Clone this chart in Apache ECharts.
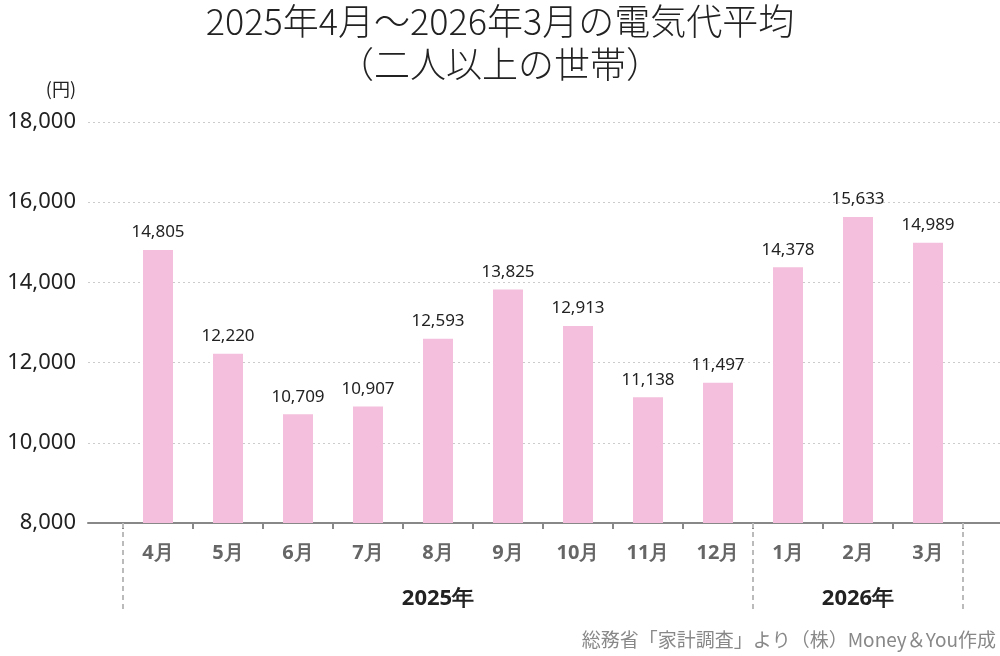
<!DOCTYPE html>
<html>
<head>
<meta charset="utf-8">
<script src="https://cdn.jsdelivr.net/npm/echarts@6/dist/echarts.min.js"></script>
<style>
  html, body { margin: 0; padding: 0; background: #fff; }
  #chart { width: 1000px; height: 656px; }
</style>
</head>
<body>
<div id="chart"></div>
<script>
// data
const months = ['4月', '5月', '6月', '7月', '8月', '9月', '10月', '11月', '12月', '1月', '2月', '3月']
const years = ['2025年', '2026年']
const yearStartIdx = [0, 9]
const yearLabelIdx = [4, 10]
const bills = [14805, 12220, 10709, 10907, 12593, 13825, 12913, 11138, 11497, 14378, 15633, 14989]
const yTicks = [8000, 10000, 12000, 14000, 16000, 18000]

const chart = echarts.init(document.getElementById('chart'), null, { renderer: 'canvas' })

const numFont = '"Noto Sans", Lato, sans-serif'
const jpFont = '"Noto Sans CJK JP", sans-serif'

const option = {
  animation: false,
  title: {
    text: '2025年4月～2026年3月の電気代平均\n（二人以上の世帯）',
    left: 'center',
    top: -5,
    textStyle: {
      fontFamily: jpFont,
      fontWeight: 300,
      fontSize: 36,
      lineHeight: 43,
      color: '#222'
    }
  },
  graphic: [{
    type: 'text',
    right: 4,
    bottom: 7,
    style: {
      text: '総務省「家計調査」より（株）Money＆You作成',
      font: '19px "Noto Sans CJK JP", sans-serif',
      fill: '#888'
    }
  }],
  grid: [
    { left: 88, right: 0, top: 122, bottom: 133 },
    { left: 123, width: 840, top: 122, bottom: 133 }
  ],
  xAxis: [
    {
      gridIndex: 0,
      type: 'value',
      min: 0,
      max: 1,
      axisLine: { show: true, lineStyle: { color: '#888', width: 2 } },
      axisTick: { show: false },
      axisLabel: { show: false },
      splitLine: { show: false }
    },
    {
      gridIndex: 1,
      type: 'category',
      data: months,
      axisLine: { show: false },
      axisTick: { show: true, length: 6, lineStyle: { color: '#888', width: 2 } },
      axisLabel: {
        margin: 20,
        fontFamily: numFont,
        fontSize: 20,
        fontWeight: 'bold',
        color: '#666'
      }
    },
    {
      gridIndex: 1,
      type: 'category',
      data: months,
      position: 'bottom',
      axisLine: { show: false },
      axisTick: {
        show: true,
        length: 87,
        interval: (idx) => yearStartIdx.includes(idx),
        lineStyle: { color: '#bbb', width: 2, type: [5, 4] }
      },
      axisLabel: {
        margin: 65,
        interval: 0,
        formatter: (v, idx) => {
          const k = yearLabelIdx.indexOf(idx)
          return k >= 0 ? years[k] : ''
        },
        fontFamily: numFont,
        fontSize: 22,
        fontWeight: 'bold',
        color: '#222'
      }
    }
  ],
  yAxis: [
    {
      gridIndex: 0,
      type: 'value',
      min: yTicks[0],
      max: yTicks[yTicks.length - 1],
      interval: 2000,
      name: '(円)',
      nameLocation: 'end',
      nameGap: 24,
      nameTextStyle: { fontFamily: jpFont, fontSize: 18, color: '#222', align: 'right', padding: [0, 12, 0, 0] },
      axisLine: { show: false },
      axisTick: { show: false },
      axisLabel: {
        margin: 12,
        fontFamily: numFont,
        fontSize: 22,
        color: '#222',
        formatter: (v) => v.toLocaleString('en-US')
      },
      splitLine: { show: true, lineStyle: { color: '#ccc', type: [2, 3], width: 1 } }
    },
    {
      gridIndex: 1,
      type: 'value',
      min: yTicks[0],
      max: yTicks[yTicks.length - 1],
      show: false
    }
  ],
  series: [{
    type: 'bar',
    xAxisIndex: 1,
    yAxisIndex: 1,
    data: bills,
    barWidth: 30,
    itemStyle: { color: '#f3bfdd' },
    label: {
      show: true,
      position: 'top',
      distance: 9,
      fontFamily: numFont,
      fontSize: 17,
      color: '#222',
      formatter: (p) => p.value.toLocaleString('en-US')
    }
  }]
}

chart.setOption(option)
</script>
</body>
</html>
